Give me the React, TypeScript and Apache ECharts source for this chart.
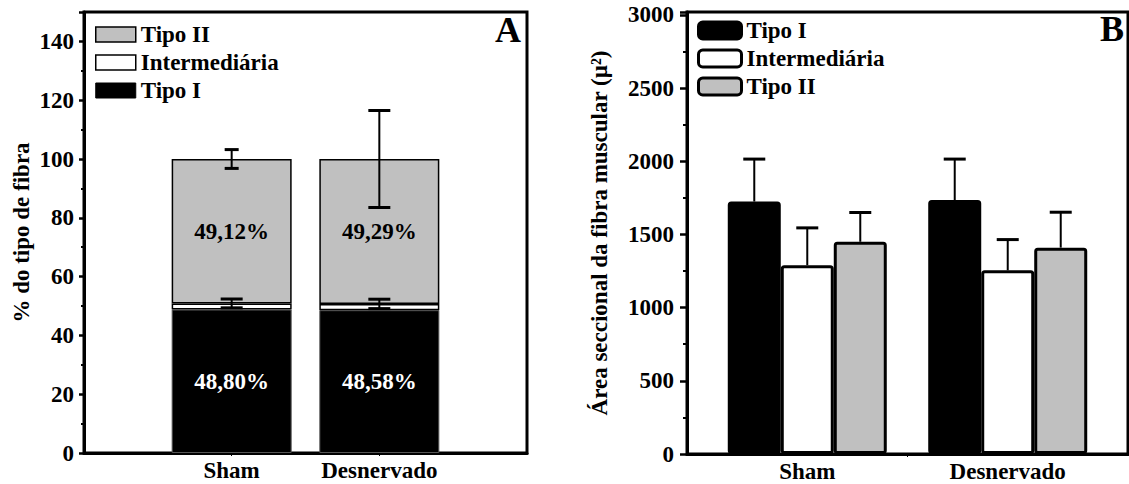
import React, { useEffect, useRef } from 'react';
import * as echarts from 'echarts';

// ---------- data ----------
const CATEGORIES = ['Sham', 'Desnervado'];

// Panel A: % do tipo de fibra (stacked)
const A_TIPO_I = [48.8, 48.58];
const A_INTERMED = [2.08, 2.13];
const A_TIPO_II = [49.12, 49.29];
const A_INTERMED_ERR = [1.5, 1.6];
const A_TIPO_II_ERR = [3.2, 16.5];

// Panel B: área seccional (µ²)
const B_TIPO_I = [1725, 1735];
const B_INTERMED = [1290, 1255];
const B_TIPO_II = [1450, 1410];
const B_TIPO_I_ERR = [290, 280];
const B_INTERMED_ERR = [255, 210];
const B_TIPO_II_ERR = [200, 242];

// ---------- styles ----------
const FONT = '"Liberation Serif", "Times New Roman", serif';
const FS = 23;
const GRAY = '#c0c0c0';
const BAR_W_A = 120;
const BAR_W_B = 53;
const CAP_A_II = [14, 22];
const CAP = 22;

const fmtPct = (v: number) => v.toFixed(2).replace('.', ',') + '%';

function errorSeries(
  name: string,
  data: number[][],
  axisIndex: number,
  offset: number,
  twoSided: boolean,
  capWidths: number[]
) {
  return {
    type: 'custom',
    name,
    xAxisIndex: axisIndex,
    yAxisIndex: axisIndex,
    z: 10,
    silent: true,
    data,
    renderItem: (params: any, api: any) => {
      const x = api.value(0);
      const y = api.value(1);
      const e = api.value(2);
      const top = api.coord([x, y + e]);
      const base = api.coord([x, twoSided ? y - e : y]);
      const cx = top[0] + offset;
      const hw = capWidths[params.dataIndex] / 2;
      const children: any[] = [
        { type: 'line', shape: { x1: cx, y1: top[1], x2: cx, y2: base[1] }, style: { stroke: '#000', lineWidth: 2 } },
        { type: 'line', shape: { x1: cx - hw, y1: top[1], x2: cx + hw, y2: top[1] }, style: { stroke: '#000', lineWidth: 3 } },
      ];
      if (twoSided) {
        children.push({ type: 'line', shape: { x1: cx - hw, y1: base[1], x2: cx + hw, y2: base[1] }, style: { stroke: '#000', lineWidth: 3 } });
      }
      return { type: 'group', children };
    },
  };
}

export default function App() {
  const ref = useRef<HTMLDivElement>(null);

  useEffect(() => {
    if (!ref.current) return;
    const chart = echarts.init(ref.current, null, { renderer: 'svg' });

    // Panel A uses a padded category axis so the two groups sit at 1/3 and 2/3 of the frame
    const catsA = ['', ...CATEGORIES, ''];
    const padA = (arr: number[]) => [null, ...arr, null];
    const interTop = A_TIPO_I.map((v, i) => v + A_INTERMED[i]);
    const totalTop = interTop.map((v, i) => v + A_TIPO_II[i]);

    const ptsB = (arr: number[]) => arr.map((v, i) => [i, v]);

    const labelStyle = { fontFamily: FONT, fontWeight: 'bold', fontSize: FS, color: '#000' };

    const option: any = {
      animation: false,
      backgroundColor: '#fff',
      grid: [
        { left: 84, top: 12, width: 443, height: 441, show: true, borderColor: '#000', borderWidth: 3, backgroundColor: 'transparent' },
        { left: 687, top: 12, width: 441, height: 442, show: true, borderColor: '#000', borderWidth: 3, backgroundColor: 'transparent' },
      ],
      xAxis: [
        {
          gridIndex: 0,
          type: 'category',
          data: catsA,
          boundaryGap: false,
          axisLine: { show: true, onZero: false, lineStyle: { color: '#000', width: 3 } },
          axisTick: { show: true, length: 3, interval: (i: number) => i > 0 && i < catsA.length - 1, lineStyle: { color: '#000', width: 1 } },
          axisLabel: { ...labelStyle, margin: 6, interval: 0 },
          splitLine: { show: false },
        },
        {
          gridIndex: 1,
          type: 'value',
          min: -0.6,
          max: 1.6,
          splitLine: { show: false },
          axisLine: { show: true, onZero: false, lineStyle: { color: '#000', width: 3 } },
          axisTick: { show: true, customValues: [0.5], length: 3, lineStyle: { color: '#000', width: 1 } },
          axisLabel: {
            ...labelStyle,
            margin: 6,
            customValues: [0, 1],
            formatter: (v: number) => CATEGORIES[Math.round(v)] ?? '',
          },
        },
      ],
      yAxis: [
        {
          gridIndex: 0,
          type: 'value',
          min: 0,
          max: 150,
          interval: 20,
          name: '% do tipo de fibra',
          nameLocation: 'middle',
          nameGap: 51,
          nameTextStyle: { ...labelStyle },
          splitLine: { show: false },
          axisLine: { show: true, onZero: false, lineStyle: { color: '#000', width: 3 } },
          axisTick: { show: true, length: 5, lineStyle: { color: '#000', width: 2.5 } },
          minorTick: { show: true, splitNumber: 2, length: 3, lineStyle: { color: '#000', width: 2 } },
          axisLabel: { ...labelStyle, margin: 10, formatter: (v: number) => (v % 20 === 0 ? String(v) : '') },
        },
        {
          gridIndex: 1,
          type: 'value',
          min: 0,
          max: 3020,
          interval: 500,
          name: 'Área seccional da fibra muscular (µ²)',
          nameLocation: 'middle',
          nameGap: 76,
          nameTextStyle: { ...labelStyle },
          splitLine: { show: false },
          axisLine: { show: true, onZero: false, lineStyle: { color: '#000', width: 3 } },
          axisTick: { show: true, length: 7, lineStyle: { color: '#000', width: 2.5 } },
          minorTick: { show: true, splitNumber: 2, length: 4, lineStyle: { color: '#000', width: 2 } },
          axisLabel: { ...labelStyle, margin: 13, formatter: (v: number) => (v % 500 === 0 ? String(v) : '') },
        },
      ],
      legend: [
        {
          left: 95,
          top: 23,
          padding: 0,
          orient: 'vertical',
          itemWidth: 40,
          itemHeight: 15,
          itemGap: 5,
          icon: 'rect',
          selectedMode: false,
          textStyle: { ...labelStyle },
          data: [
            { name: 'Tipo II', itemStyle: { color: GRAY, borderColor: '#000', borderWidth: 1.5 } },
            { name: 'Intermediária', itemStyle: { color: '#fff', borderColor: '#000', borderWidth: 1.5 } },
            { name: 'Tipo I', itemStyle: { color: '#000', borderColor: '#000', borderWidth: 1 } },
          ],
        },
        {
          left: 697,
          top: 19,
          padding: 0,
          orient: 'vertical',
          itemWidth: 43,
          itemHeight: 17,
          itemGap: 5,
          icon: 'roundRect',
          selectedMode: false,
          textStyle: { ...labelStyle },
          data: [
            { name: 'Tipo I', itemStyle: { color: '#000', borderColor: '#000', borderWidth: 3 } },
            { name: 'Intermediária', itemStyle: { color: '#fff', borderColor: '#000', borderWidth: 3 } },
            { name: 'Tipo II', itemStyle: { color: GRAY, borderColor: '#000', borderWidth: 3 } },
          ],
        },
      ],
      graphic: [
        { type: 'text', left: 495, top: 12, style: { text: 'A', font: `bold 36px ${FONT}`, fill: '#000' } },
        { type: 'text', left: 1100, top: 11, style: { text: 'B', font: `bold 36px ${FONT}`, fill: '#000' } },
      ],
      series: [
        // ---- Panel A ----
        {
          type: 'bar', name: 'Tipo I', stack: 'a', xAxisIndex: 0, yAxisIndex: 0, barWidth: BAR_W_A,
          data: padA(A_TIPO_I),
          itemStyle: { color: '#000', borderColor: '#555', borderWidth: 1 },
          label: {
            show: true, position: 'inside', ...labelStyle, color: '#fff',
            textBorderWidth: 0, textBorderColor: 'transparent',
            formatter: (p: any) => fmtPct(p.value),
          },
        },
        {
          type: 'bar', name: 'Intermediária', stack: 'a', xAxisIndex: 0, yAxisIndex: 0, barWidth: BAR_W_A,
          data: padA(A_INTERMED),
          itemStyle: { color: '#fff', borderColor: '#000', borderWidth: 1.5 },
        },
        {
          type: 'bar', name: 'Tipo II', stack: 'a', xAxisIndex: 0, yAxisIndex: 0, barWidth: BAR_W_A,
          data: padA(A_TIPO_II),
          itemStyle: { color: GRAY, borderColor: '#000', borderWidth: 1.5 },
          label: {
            show: true, position: 'inside', ...labelStyle,
            textBorderWidth: 0, textBorderColor: 'transparent',
            formatter: (p: any) => fmtPct(p.value),
          },
        },
        errorSeries('errA1', interTop.map((v, i) => [i + 1, v, A_INTERMED_ERR[i]]), 0, 0, true, [CAP, CAP]),
        errorSeries('errA2', totalTop.map((v, i) => [i + 1, v, A_TIPO_II_ERR[i]]), 0, 0, true, CAP_A_II),
        // ---- Panel B ----
        {
          type: 'bar', name: 'Tipo I', xAxisIndex: 1, yAxisIndex: 1, barWidth: BAR_W_B, barGap: '0%',
          data: ptsB(B_TIPO_I),
          itemStyle: { color: '#000', borderColor: '#000', borderWidth: 3, borderRadius: 2 },
        },
        {
          type: 'bar', name: 'Intermediária', xAxisIndex: 1, yAxisIndex: 1, barWidth: BAR_W_B, barGap: '0%',
          data: ptsB(B_INTERMED),
          itemStyle: { color: '#fff', borderColor: '#000', borderWidth: 3, borderRadius: 2 },
        },
        {
          type: 'bar', name: 'Tipo II', xAxisIndex: 1, yAxisIndex: 1, barWidth: BAR_W_B, barGap: '0%',
          data: ptsB(B_TIPO_II),
          itemStyle: { color: GRAY, borderColor: '#000', borderWidth: 3, borderRadius: 2 },
        },
        errorSeries('errB1', B_TIPO_I.map((v, i) => [i, v, B_TIPO_I_ERR[i]]), 1, -BAR_W_B, false, [CAP, CAP]),
        errorSeries('errB2', B_INTERMED.map((v, i) => [i, v, B_INTERMED_ERR[i]]), 1, 0, false, [CAP, CAP]),
        errorSeries('errB3', B_TIPO_II.map((v, i) => [i, v, B_TIPO_II_ERR[i]]), 1, BAR_W_B, false, [CAP, CAP]),
      ],
    };

    chart.setOption(option);
    return () => chart.dispose();
  }, []);

  return (
    <div
      ref={ref}
      style={{ position: 'absolute', left: 0, top: 0, width: 1129, height: 484, background: '#fff' }}
    />
  );
}
